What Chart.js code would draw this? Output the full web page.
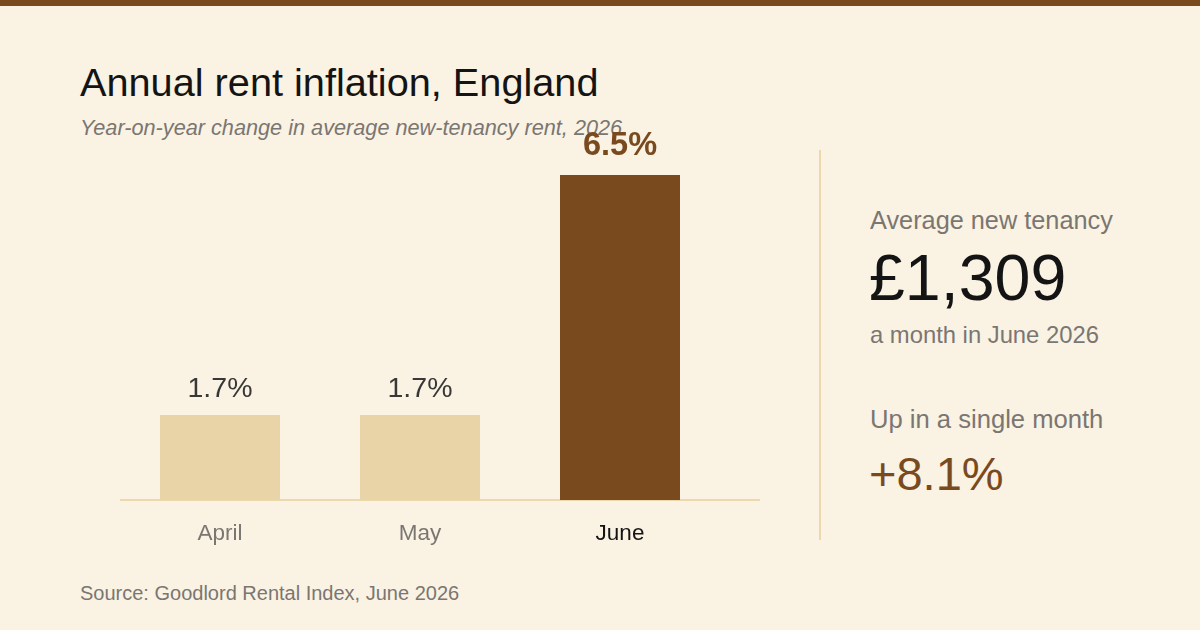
<!DOCTYPE html>
<html>
<head>
<meta charset="utf-8">
<script src="https://cdn.jsdelivr.net/npm/chart.js@4.4.1/dist/chart.umd.min.js"></script>
<style>
  html, body { margin: 0; padding: 0; }
  body {
    width: 1200px; height: 630px; overflow: hidden; position: relative;
    background: #faf2e3; font-family: "Liberation Sans", Arial, sans-serif;
  }
  .topbar { position: absolute; left: 0; top: 0; width: 1200px; height: 6px; background: #7a4a1f; }
  .t { position: absolute; white-space: nowrap; line-height: 1; }
  #title { left: 80px; top: 63px; font-size: 39.7px; color: #141414; }
  #subtitle { left: 80px; top: 117px; font-size: 21.7px; font-style: italic; color: #7a7672; }
  #source { left: 80px; top: 583px; font-size: 20px; color: #7a7672; }
  .divider { position: absolute; left: 819px; top: 150px; width: 2px; height: 390px; background: #ecd8ad; }
  #k1 { left: 870px; top: 208px; font-size: 25.3px; color: #7a7672; }
  #v1 { left: 869px; top: 246px; font-size: 64.5px; color: #141414; }
  #k1b { left: 870px; top: 323px; font-size: 23.8px; color: #7a7672; }
  #k2 { left: 870px; top: 407px; font-size: 25.6px; color: #7a7672; }
  #v2 { left: 869px; top: 450px; font-size: 47px; color: #7a4a1f; }
  #chartBox { position: absolute; left: 100px; top: 80px; width: 720px; height: 480px; }
</style>
</head>
<body>
<div class="topbar"></div>
<div class="t" id="title">Annual rent inflation, England</div>
<div class="t" id="subtitle">Year-on-year change in average new-tenancy rent, 2026</div>
<div id="chartBox"><canvas id="chart"></canvas></div>
<div class="divider"></div>
<div class="t" id="k1">Average new tenancy</div>
<div class="t" id="v1">£1,309</div>
<div class="t" id="k1b">a month in June 2026</div>
<div class="t" id="k2">Up in a single month</div>
<div class="t" id="v2">+8.1%</div>
<div class="t" id="source">Source: Goodlord Rental Index, June 2026</div>
<script>
const months = ['April', 'May', 'June'];
const inflation = [1.7, 1.7, 6.5];
const valueLabels = ['1.7%', '1.7%', '6.5%'];

const LIGHT = '#e9d4a8';
const DARK = '#7a4a1f';
const barColors = months.map((m, i) => i === months.length - 1 ? DARK : LIGHT);

// baseline drawn a bit wider than the bars' area, like the original
const baseLine = {
  id: 'baseLine',
  beforeDatasetsDraw(chart) {
    const { ctx, chartArea, scales } = chart;
    const y = scales.y.getPixelForValue(0);
    ctx.save();
    ctx.strokeStyle = '#ecd8ad';
    ctx.lineWidth = 2;
    ctx.beginPath();
    ctx.moveTo(chartArea.left, y);
    ctx.lineTo(chartArea.right + 40, y);
    ctx.stroke();
    ctx.restore();
  }
};

const barLabels = {
  id: 'barLabels',
  afterDatasetsDraw(chart) {
    const { ctx } = chart;
    const meta = chart.getDatasetMeta(0);
    ctx.save();
    ctx.textAlign = 'center';
    ctx.textBaseline = 'alphabetic';
    meta.data.forEach((bar, i) => {
      const last = i === meta.data.length - 1;
      ctx.font = last ? 'bold 32.5px "Liberation Sans", Arial, sans-serif'
                      : '28.5px "Liberation Sans", Arial, sans-serif';
      ctx.fillStyle = last ? DARK : '#383838';
      ctx.fillText(valueLabels[i], bar.x, bar.y - (last ? 20 : 18));
    });
    ctx.restore();
  }
};

new Chart(document.getElementById('chart'), {
  type: 'bar',
  data: {
    labels: months,
    datasets: [{
      data: inflation,
      backgroundColor: barColors,
      borderWidth: 0,
      categoryPercentage: 0.6,
      barPercentage: 1
    }]
  },
  options: {
    responsive: true,
    maintainAspectRatio: false,
    animation: false,
    layout: { padding: { left: 20, right: 100, top: 20, bottom: 0 } },
    plugins: { legend: { display: false }, tooltip: { enabled: false } },
    scales: {
      x: {
        grid: { display: false },
        border: { display: false },
        ticks: {
          padding: 12,
          font: { family: '"Liberation Sans", Arial, sans-serif', size: 22.5 },
          color: ctx => ctx.index === months.length - 1 ? '#141414' : '#7a7672'
        },
        afterFit(scale) { scale.height = 60; }
      },
      y: { display: false, min: 0, max: 8 }
    }
  },
  plugins: [baseLine, barLabels]
});
</script>
</body>
</html>
